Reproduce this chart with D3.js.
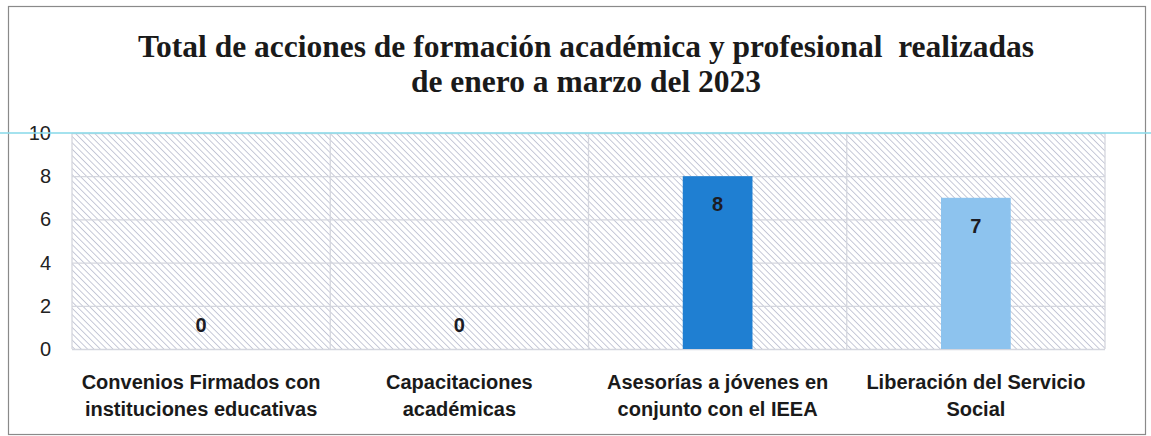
<!DOCTYPE html>
<html>
<head>
<meta charset="utf-8">
<script src="https://cdn.jsdelivr.net/npm/d3@7"></script>
<style>
  body { margin: 0; background: #fff; }
  .tick text { font-family: "Liberation Sans", sans-serif; }
</style>
</head>
<body>
<svg id="chart" width="1151" height="436"></svg>
<script>
// data

let categories = [
  ["Convenios Firmados con", "instituciones educativas"],
  ["Capacitaciones", "académicas"],
  ["Asesorías a jóvenes en", "conjunto con el IEEA"],
  ["Liberación del Servicio", "Social"]
];
let values = [0, 0, 8, 7];
let barColors = ["#1f7fd2", "#1f7fd2", "#1f7fd2", "#8dc3ee"];
let yTicks = [0, 2, 4, 6, 8, 10];
let titleLines = [
  "Total de acciones de formación académica y profesional  realizadas",
  "de enero a marzo del 2023"
];

// layout

let W = 1151, H = 436;
let plot = {left: 72, right: 1105, top: 133, bottom: 349};

let svg = d3.select("#chart");

// hatch pattern for the plot background
let defs = svg.append("defs");
let pat = defs.append("pattern")
    .attr("id", "hatch")
    .attr("width", 4.5)
    .attr("height", 4.5)
    .attr("patternUnits", "userSpaceOnUse")
    .attr("patternTransform", "rotate(45)");
pat.append("rect").attr("width", 4.5).attr("height", 4.5).attr("fill", "#fff");
pat.append("line")
    .attr("x1", 0).attr("y1", 0).attr("x2", 4.5).attr("y2", 0)
    .attr("stroke", "#b9bdcf")
    .attr("stroke-width", 1.6);

// outer frame
svg.append("rect")
    .attr("x", 8.5).attr("y", 6.5)
    .attr("width", 1137).attr("height", 428)
    .attr("fill", "#fff")
    .attr("stroke", "#8a8a8a")
    .attr("stroke-width", 1.2);

// title
svg.append("g").selectAll("text")
  .data(titleLines)
  .join("text")
    .attr("x", 586)
    .attr("y", (d, i) => 57 + i * 35)
    .attr("text-anchor", "middle")
    .attr("font-family", "'Liberation Serif', 'Times New Roman', serif")
    .attr("font-weight", "bold")
    .attr("font-size", 31.5)
    .attr("fill", "#1a1a1a")
    .style("white-space", "pre")
    .text(d => d);

// scales
let x = d3.scaleBand()
    .domain(d3.range(categories.length))
    .range([plot.left, plot.right])
    .padding(0);

let y = d3.scaleLinear()
    .domain([0, 10])
    .range([plot.bottom, plot.top]);

let barW = x.bandwidth() * 0.27;

// plot background
svg.append("rect")
    .attr("x", plot.left).attr("y", plot.top)
    .attr("width", plot.right - plot.left)
    .attr("height", plot.bottom - plot.top)
    .attr("fill", "url(#hatch)");

// horizontal gridlines
svg.append("g")
    .attr("transform", `translate(${plot.left},0)`)
    .call(d3.axisLeft(y).tickValues(yTicks).tickSize(-(plot.right - plot.left)).tickFormat(""))
    .call(g => g.select(".domain").remove())
    .call(g => g.selectAll("line").attr("stroke", "#d4d6de").attr("stroke-width", 1.3));

// vertical category separators
svg.append("g")
  .selectAll("line")
  .data(d3.range(categories.length + 1))
  .join("line")
    .attr("x1", i => i < categories.length ? x(i) : plot.right)
    .attr("x2", i => i < categories.length ? x(i) : plot.right)
    .attr("y1", plot.top)
    .attr("y2", plot.bottom)
    .attr("stroke", "#d4d6de")
    .attr("stroke-width", 1.3);

// y axis labels
svg.append("g")
    .attr("transform", `translate(51,0)`)
    .call(d3.axisLeft(y).tickValues(yTicks).tickSize(0).tickPadding(0))
    .call(g => g.select(".domain").remove())
    .call(g => g.selectAll("text")
        .attr("font-size", 20)
        .attr("fill", "#222"));

// bars
svg.append("g")
  .selectAll("rect")
  .data(values)
  .join("rect")
    .attr("x", (d, i) => x(i) + x.bandwidth() / 2 - barW / 2)
    .attr("y", d => y(d))
    .attr("width", barW)
    .attr("height", d => y(0) - y(d))
    .attr("fill", (d, i) => barColors[i]);

// value labels
svg.append("g")
  .selectAll("text")
  .data(values)
  .join("text")
    .attr("x", (d, i) => x(i) + x.bandwidth() / 2)
    .attr("y", d => d > 0 ? y(d) + 35 : y(0) - 17)
    .attr("text-anchor", "middle")
    .attr("font-family", "'Liberation Sans', sans-serif")
    .attr("font-weight", "bold")
    .attr("font-size", 20)
    .attr("fill", "#1c1c24")
    .text(d => d);

// category labels
let cat = svg.append("g")
  .selectAll("text")
  .data(categories)
  .join("text")
    .attr("text-anchor", "middle")
    .attr("font-family", "'Liberation Sans', sans-serif")
    .attr("font-weight", "bold")
    .attr("font-size", 20)
    .attr("fill", "#1a1a1a");

cat.selectAll("tspan")
  .data((d, i) => d.map(t => ({t, i})))
  .join("tspan")
    .attr("x", d => x(d.i) + x.bandwidth() / 2)
    .attr("y", (d, j) => 389 + j * 27)
    .text(d => d.t);

// cyan scan line across the top of the plot
svg.append("line")
    .attr("x1", 0).attr("x2", W)
    .attr("y1", plot.top).attr("y2", plot.top)
    .attr("stroke", "#8edbea")
    .attr("stroke-width", 2)
    .attr("opacity", 0.8);
</script>
</body>
</html>
